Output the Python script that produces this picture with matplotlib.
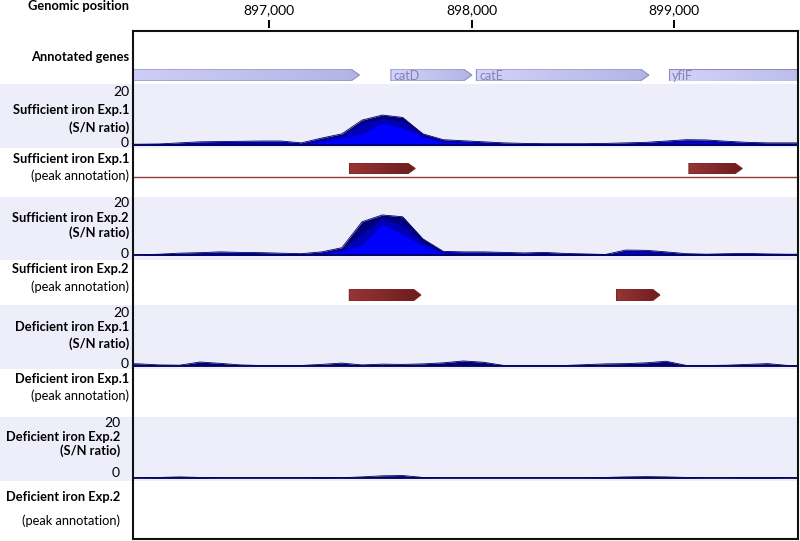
import matplotlib
matplotlib.use('Agg')
import matplotlib.pyplot as plt
from matplotlib.patches import Polygon, Rectangle
from matplotlib.colors import LinearSegmentedColormap
import numpy as np

plt.rcParams['font.family'] = ['Lato', 'DejaVu Sans']

## genomic window and ruler
x_min, x_max = 896330, 899610
tick_pos = [897000, 898000, 899000]

## signal sampling positions (bp)
positions = [896260, 896360, 896460, 896560, 896660, 896760, 896860, 896960, 897060,
             897160, 897260, 897360, 897460, 897560, 897660, 897760, 897860, 897960,
             898060, 898160, 898260, 898360, 898460, 898560, 898660, 898760, 898860,
             898960, 899060, 899160, 899260, 899360, 899460, 899560, 899660]

## S/N ratio, sufficient iron Exp.1 (outer / middle / inner layers)
suf1_outer = [0.3, 0.3, 0.4, 0.8, 1.2, 1.3, 1.4, 1.5, 1.5, 0.8, 2.6, 4.2, 9.4, 11.3, 10.4, 4.2, 2.0,
              1.6, 1.2, 0.8, 0.6, 0.5, 0.5, 0.5, 0.6, 0.8, 1.0, 1.5, 2.0, 1.9, 1.4, 1.0, 0.8, 0.8, 0.8]
suf1_mid = [0.2, 0.2, 0.3, 0.6, 0.9, 1.0, 1.1, 1.2, 1.2, 0.6, 2.2, 3.6, 8.2, 10.0, 9.0, 3.6, 1.6,
            1.3, 0.9, 0.6, 0.4, 0.4, 0.4, 0.4, 0.4, 0.6, 0.8, 1.2, 1.6, 1.5, 1.1, 0.8, 0.6, 0.6, 0.6]
suf1_inner = [0.1, 0.1, 0.2, 0.3, 0.4, 0.5, 0.5, 0.5, 0.5, 0.4, 1.2, 2.6, 4.2, 8.3, 6.4, 3.0, 1.1,
              0.8, 0.5, 0.3, 0.2, 0.2, 0.2, 0.2, 0.2, 0.3, 0.4, 0.6, 0.8, 0.8, 0.6, 0.4, 0.3, 0.3, 0.3]

## S/N ratio, sufficient iron Exp.2
suf2_outer = [0.1, 0.1, 0.3, 0.7, 0.9, 1.2, 1.0, 0.9, 0.7, 0.5, 1.2, 2.8, 12.8, 15.4, 14.7, 6.2, 1.4,
              1.2, 1.2, 1.0, 0.8, 1.0, 0.6, 0.4, 0.2, 1.9, 1.8, 1.2, 0.5, 0.3, 0.5, 0.6, 0.4, 0.3, 0.3]
suf2_mid = [0.1, 0.1, 0.2, 0.5, 0.7, 0.9, 0.8, 0.7, 0.5, 0.4, 0.9, 2.2, 8.5, 14.0, 11.5, 4.8, 1.1,
            1.0, 0.9, 0.8, 0.6, 0.8, 0.5, 0.3, 0.1, 1.5, 1.4, 0.9, 0.4, 0.2, 0.4, 0.5, 0.3, 0.2, 0.2]
suf2_inner = [0.0, 0.0, 0.1, 0.3, 0.4, 0.5, 0.4, 0.4, 0.3, 0.2, 0.5, 1.5, 4.0, 11.9, 8.0, 3.5, 0.8,
              0.6, 0.5, 0.4, 0.3, 0.4, 0.3, 0.2, 0.1, 0.8, 0.7, 0.5, 0.2, 0.1, 0.2, 0.3, 0.2, 0.1, 0.1]

## S/N ratio, deficient iron Exp.1 / Exp.2
def1 = [1.0, 0.8, 0.4, 0.3, 1.5, 1.0, 0.4, 0.2, 0.2, 0.2, 0.6, 1.1, 0.4, 0.7, 0.6, 0.8, 1.2,
        1.9, 1.4, 0.2, 0.2, 0.2, 0.2, 0.5, 0.8, 0.9, 1.2, 1.8, 0.2, 0.2, 0.3, 0.6, 0.9, 0.2, 0.1]
def2 = [0.0, 0.1, 0.2, 0.4, 0.2, 0.1, 0.1, 0.1, 0.1, 0.1, 0.2, 0.1, 0.4, 0.8, 0.9, 0.2, 0.1,
        0.1, 0.1, 0.1, 0.1, 0.1, 0.1, 0.1, 0.2, 0.4, 0.5, 0.4, 0.2, 0.1, 0.1, 0.2, 0.2, 0.1, 0.1]

## annotated genes
gene_names = ['', 'catD', 'catE', 'yfiF']
gene_starts = [896100, 897602, 898024, 898973]
gene_ends = [897447, 898002, 898875, 899900]

## peak annotations
peak1_starts = [897398, 899072]
peak1_ends = [897722, 899335]
peak2_starts = [897397, 898715]
peak2_ends = [897750, 898929]

W, H = 800, 541
FRAME_L, FRAME_R, FRAME_T, FRAME_B = 133, 798, 31, 539
fig = plt.figure(figsize=(W / 100, H / 100), dpi=100)


def fx(px):
    return px / W


def fy(py):
    return 1 - py / H


def add_track(top, bottom):
    ax = fig.add_axes([fx(FRAME_L), fy(bottom), fx(FRAME_R) - fx(FRAME_L), (bottom - top) / H])
    ax.set_axis_off()
    ax.patch.set_alpha(0)
    return ax


def band(top, bottom, right=FRAME_R):
    fig.patches.append(Rectangle((0, fy(bottom)), fx(right), (bottom - top) / H,
                                 transform=fig.transFigure, facecolor='#eeeefa',
                                 edgecolor='none', zorder=-1))


def draw_arrow(ax, x0, x1, tip, c_left, c_right, edge):
    xs = [x0, x1 - tip, x1, x1 - tip, x0]
    ys = [0, 0, 0.5, 1, 1]
    poly = Polygon(np.column_stack([xs, ys]), closed=True, facecolor='none',
                   edgecolor=edge, lw=0.8, zorder=3)
    ax.add_patch(poly)
    cmap = LinearSegmentedColormap.from_list('grad', [c_left, c_right])
    im = ax.imshow(np.linspace(0, 1, 64).reshape(1, -1), cmap=cmap, extent=(x0, x1, 0, 1),
                   aspect='auto', origin='lower', zorder=2)
    im.set_clip_path(poly)


def snr_track(y20, y0, layers, colors):
    ax = add_track(y20, y0)
    for vals, c in zip(layers, colors):
        ax.fill_between(positions, 0, vals, color=c, lw=0, zorder=2)
    ax.plot(positions, layers[0], color='#000060', lw=0.6, zorder=3)
    ax.axhline(0, color='#00005a', lw=1.2, clip_on=False, zorder=3)
    ax.set_xlim(x_min, x_max)
    ax.set_ylim(0, 20)
    return ax


## light bands behind the S/N tracks
band(84, 148)
band(197, 260)
band(305, 369)
band(417, 481)

## S/N tracks
blues = ['#00007a', '#0000b4', '#0000ff']
snr_track(92, 145, [suf1_outer, suf1_mid, suf1_inner], blues)
snr_track(203, 255, [suf2_outer, suf2_mid, suf2_inner], blues)
snr_track(313, 366, [def1], ['#00007a'])
snr_track(423, 478, [def2], ['#00007a'])

## gene track
ax_g = add_track(69, 81)
for name, s, e in zip(gene_names, gene_starts, gene_ends):
    draw_arrow(ax_g, s, e, 42, '#d2d2fa', '#b4b4e4', '#8c8cc0')
    if name:
        ax_g.text(s + 15, 0.45, name, fontsize=9, color='#8282b4', va='center', ha='left', zorder=4)
ax_g.set_xlim(x_min, x_max)
ax_g.set_ylim(0, 1)

## peak tracks
ax_p1 = add_track(163, 174)
for s, e in zip(peak1_starts, peak1_ends):
    draw_arrow(ax_p1, s, e, 38, '#973535', '#6c1c1c', '#7a2828')
ax_p1.axhline(-0.24, color='#8b3c3c', lw=1.0, clip_on=False)
ax_p1.set_xlim(x_min, x_max)
ax_p1.set_ylim(0, 1)

ax_p2 = add_track(289, 301)
for s, e in zip(peak2_starts, peak2_ends):
    draw_arrow(ax_p2, s, e, 38, '#973535', '#6c1c1c', '#7a2828')
ax_p2.set_xlim(x_min, x_max)
ax_p2.set_ylim(0, 1)

## frame
frame = fig.add_axes([fx(FRAME_L), fy(FRAME_B), fx(FRAME_R) - fx(FRAME_L), (FRAME_B - FRAME_T) / H])
frame.patch.set_alpha(0)
frame.set_xlim(x_min, x_max)
frame.set_xticks([])
frame.set_yticks([])
for sp in frame.spines.values():
    sp.set_linewidth(1.5)
    sp.set_color('#111111')

## ruler on top
ruler = fig.add_axes([fx(FRAME_L), fy(28), fx(FRAME_R) - fx(FRAME_L), 8 / H])
ruler.patch.set_alpha(0)
for sp in ruler.spines.values():
    sp.set_visible(False)
ruler.set_xlim(x_min, x_max)
ruler.set_yticks([])
ruler.xaxis.tick_top()
ruler.set_xticks(tick_pos)
ruler.set_xticklabels(['{:,}'.format(t) for t in tick_pos])
ruler.tick_params(axis='x', direction='in', length=6, width=1.4, pad=3, labelsize=10)

## left labels
LX = 129
BIG = 9.3
fig.text(fx(LX), fy(6), 'Genomic position', ha='right', va='center', fontsize=BIG, fontweight='bold')
fig.text(fx(LX), fy(57), 'Annotated genes', ha='right', va='center', fontsize=BIG, fontweight='bold')

snr_labels = [('Sufficient iron Exp.1', 92, 110, 128, 143, LX),
              ('Sufficient iron Exp.2', 203, 218, 233, 254, LX),
              ('Deficient iron Exp.1', 313, 327, 344, 364, LX),
              ('Deficient iron Exp.2', 423, 437, 451, 473, 120)]
for name, y20, yn, ys, y0, x in snr_labels:
    fig.text(fx(x), fy(y20), '20', ha='right', va='center', fontsize=10)
    fig.text(fx(x), fy(yn), name, ha='right', va='center', fontsize=BIG, fontweight='bold')
    fig.text(fx(x), fy(ys), '(S/N ratio)', ha='right', va='center', fontsize=BIG, fontweight='bold')
    fig.text(fx(x), fy(y0), '0', ha='right', va='center', fontsize=10)

peak_labels = [('Sufficient iron Exp.1', 159, 176, LX),
               ('Sufficient iron Exp.2', 269, 287, LX),
               ('Deficient iron Exp.1', 379, 396, LX),
               ('Deficient iron Exp.2', 497, 521, 120)]
for name, yn, ys, x in peak_labels:
    fig.text(fx(x), fy(yn), name, ha='right', va='center', fontsize=BIG, fontweight='bold')
    fig.text(fx(x), fy(ys), '(peak annotation)', ha='right', va='center', fontsize=BIG)

fig.savefig('out.png', dpi=100)
